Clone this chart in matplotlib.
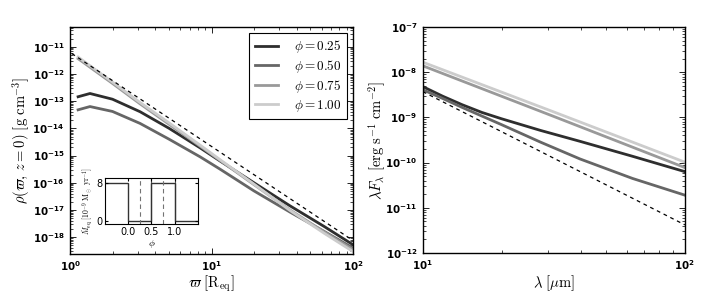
import numpy as np
import matplotlib
matplotlib.use('Agg')
import matplotlib.pyplot as plt
from matplotlib.ticker import LogLocator, NullFormatter, FuncFormatter

plt.rcParams['mathtext.fontset'] = 'cm'

# densita' nel piano equatoriale (log10 raggio, log10 rho)
phases = ['0.25', '0.50', '0.75', '1.00']
greys = ['0.18', '0.4', '0.6', '0.8']

logr_025 = [0.057, 0.141, 0.3, 0.495, 0.7, 0.92, 1.06, 1.3, 1.555, 1.8, 2.0]
logrho_025 = [-12.84, -12.72, -12.93, -13.39, -14.0, -14.72, -15.2, -16.0, -16.85, -17.62, -18.28]
logr_050 = [0.057, 0.141, 0.3, 0.495, 0.7, 0.92, 1.06, 1.3, 1.555, 1.8, 2.0]
logrho_050 = [-13.32, -13.2, -13.38, -13.82, -14.4, -15.05, -15.5, -16.3, -17.08, -17.8, -18.4]
logr_075 = [0.057, 0.3, 0.495, 0.7, 0.92, 1.06, 1.3, 1.555, 1.8, 2.0]
logrho_075 = [-11.44, -12.35, -13.1, -13.85, -14.66, -15.18, -16.07, -17.0, -17.82, -18.46]
logr_100 = [0.057, 0.3, 0.495, 0.7, 0.92, 1.06, 1.3, 1.555, 1.8, 2.0]
logrho_100 = [-11.38, -12.3, -13.05, -13.8, -14.62, -15.15, -16.05, -17.02, -17.87, -18.53]
r_ref = [1.03, 100.0]
rho_ref = [5.6e-12, 7.5e-19]

# SED (log10 lambda/10um, log10 lambda F_lambda)
loglam_a = [0.0, 0.075, 0.15, 0.225, 0.3, 0.45, 0.6, 0.8, 1.0]
logsed_025 = [-8.32, -8.53, -8.72, -8.89, -9.03, -9.29, -9.53, -9.86, -10.20]
logsed_050 = [-8.39, -8.58, -8.78, -8.97, -9.16, -9.55, -9.92, -10.35, -10.72]
loglam_b = [0.0, 0.5, 1.0]
logsed_075 = [-7.86, -8.98, -10.11]
logsed_100 = [-7.78, -8.88, -9.99]
lam_ref = [10.0, 100.0]
sed_ref = [3.7e-9, 4.2e-12]

# inset: tasso di perdita di massa in funzione della fase
phi_edges = [-0.5, 0.0, 0.5, 1.0, 1.5]
mdot_levels = [8, 0, 8, 0]


def log_label(v, pos):
    e = int(np.round(np.log10(v)))
    return r'$\mathregular{10^{%d}}$' % e


def style_log_axis(ax):
    ax.tick_params(which='both', direction='in', top=True, right=True)
    ax.tick_params(which='major', length=4, width=0.6, pad=4)
    ax.tick_params(which='minor', length=2, width=0.5)
    ax.xaxis.set_major_formatter(FuncFormatter(log_label))
    ax.yaxis.set_major_formatter(FuncFormatter(log_label))
    ax.yaxis.set_minor_formatter(NullFormatter())
    ax.xaxis.set_minor_formatter(NullFormatter())
    for lab in ax.get_xticklabels() + ax.get_yticklabels():
        lab.set_fontsize(7.4)
        lab.set_fontweight('bold')
    for s in ax.spines.values():
        s.set_linewidth(1.0)


fig = plt.figure(figsize=(7.06, 3.03), dpi=100)
ax1 = fig.add_axes([0.0992, 0.1617, 0.4008, 0.7492])
ax2 = fig.add_axes([0.599, 0.165, 0.371, 0.746])

# pannello sinistro
left_curves = [(logr_025, logrho_025), (logr_050, logrho_050),
               (logr_075, logrho_075), (logr_100, logrho_100)]
for (lx, ly), ph, c in zip(left_curves, phases, greys):
    ax1.plot(10 ** np.array(lx), 10 ** np.array(ly), color=c, lw=2, label=r'$\phi=%s$' % ph)
ax1.plot(r_ref, rho_ref, 'k--', lw=0.9, dashes=(3, 3))
ax1.set_xscale('log')
ax1.set_yscale('log')
ax1.set_xlim(1, 100)
ax1.set_ylim(2.4e-19, 5.3e-11)
ax1.yaxis.set_major_locator(LogLocator(base=10, numticks=20))
ax1.yaxis.set_minor_locator(LogLocator(base=10, subs=np.arange(2, 10), numticks=20))
style_log_axis(ax1)
ax1.set_xlabel(r'$\varpi\ [\mathrm{R_{eq}}]$', fontsize=10.5)
ax1.set_ylabel(r'$\rho(\varpi,\,z=0)\ [\mathrm{g\ cm^{-3}}]$', fontsize=10.5)
ax1.xaxis.set_label_coords(0.5, -0.088)
ax1.yaxis.set_label_coords(-0.131, 0.5)
leg = ax1.legend(loc='upper right', fontsize=9.5, handlelength=1.8, fancybox=False,
                 framealpha=1, borderaxespad=0.45, labelspacing=0.22, borderpad=0.4,
                 handletextpad=1.2)
leg.get_frame().set_edgecolor('k')
leg.get_frame().set_linewidth(0.8)

# pannello destro
right_curves = [(loglam_a, logsed_025), (loglam_a, logsed_050),
                (loglam_b, logsed_075), (loglam_b, logsed_100)]
for (lx, ly), c in zip(right_curves, greys):
    ax2.plot(10 ** (1 + np.array(lx)), 10 ** np.array(ly), color=c, lw=2)
ax2.plot(lam_ref, sed_ref, 'k--', lw=0.9, dashes=(3, 3))
ax2.set_xscale('log')
ax2.set_yscale('log')
ax2.set_xlim(10, 100)
ax2.set_ylim(1e-12, 1e-7)
ax2.yaxis.set_major_locator(LogLocator(base=10, numticks=20))
ax2.yaxis.set_minor_locator(LogLocator(base=10, subs=np.arange(2, 10), numticks=20))
style_log_axis(ax2)
ax2.set_xlabel(r'$\lambda\ [\mu\mathrm{m}]$', fontsize=10.5)
ax2.set_ylabel(r'$\lambda F_\lambda\ [\mathrm{erg\ s^{-1}\ cm^{-2}}]$', fontsize=10.5)
ax2.xaxis.set_label_coords(0.5, -0.09)
ax2.yaxis.set_label_coords(-0.134, 0.5)

# inset
axi = fig.add_axes([0.1487, 0.2607, 0.1317, 0.1518])
axi.stairs(mdot_levels, phi_edges, color='0.2', lw=1.0, baseline=None)
for p in [0.5, 1.0]:
    axi.axvline(p, color='0.35', lw=0.8, zorder=0)
for p in [0.25, 0.75]:
    axi.axvline(p, color='0.45', lw=0.8, ls='--', dashes=(4, 3))
axi.set_xlim(-0.5, 1.5)
axi.set_ylim(-0.6, 9)
axi.set_xticks([0.0, 0.5, 1.0])
axi.set_yticks([0, 8])
axi.tick_params(which='both', direction='in', top=True, right=True, labelsize=7, length=2, pad=2)
axi.set_xlabel(r'$\phi$', fontsize=7, labelpad=1)
axi.set_ylabel(r'$\dot{M}_{\rm eq}\ [10^{-9}\,\mathrm{M_\odot\ yr^{-1}}]$', fontsize=5.5, labelpad=1)

fig.savefig('out.png', dpi=100)
